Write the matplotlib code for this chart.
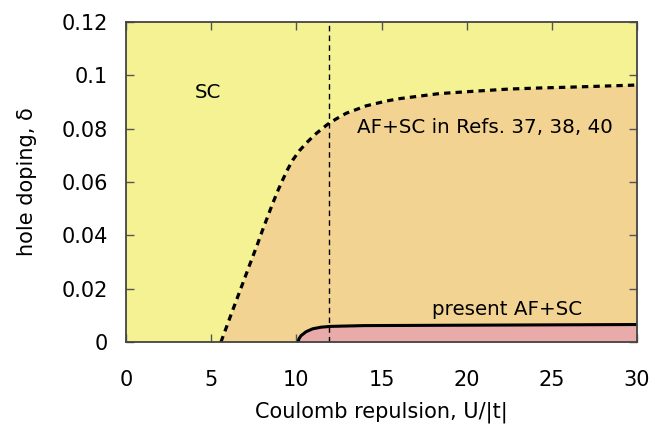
import numpy as np
import matplotlib
matplotlib.use("Agg")
import matplotlib.pyplot as plt

# boundary of the AF+SC region from Refs. 37, 38, 40 (dotted)
u_refs = [5.57, 6.25, 6.75, 7.24, 7.72, 8.02, 8.31, 8.61, 8.9, 9.2, 9.49, 9.78, 10.18, 10.67,
          11.16, 11.84, 12.34, 12.92, 14.1, 15.28, 16.06, 18.4, 20.5, 22.5, 24.3, 26.06, 28.0, 30.0]
d_refs = [0.0, 0.0118, 0.0203, 0.0287, 0.0368, 0.0421, 0.047, 0.052, 0.0566, 0.0609, 0.0648, 0.0682, 0.0718, 0.0752,
          0.0782, 0.0817, 0.0837, 0.0858, 0.0886, 0.0904, 0.0913, 0.0932, 0.0941, 0.0949, 0.0953, 0.0956, 0.0960, 0.0964]

# boundary of the present AF+SC region (solid)
u_pres = [10.1, 10.15, 10.27, 10.57, 10.96, 11.45, 12.0, 14.0, 18.0, 22.0, 26.0, 30.0]
d_pres = [0.0, 0.0012, 0.0024, 0.0039, 0.0050, 0.0056, 0.0059, 0.0062, 0.0063, 0.0064, 0.0065, 0.0066]

u_vline = 11.9

fig = plt.figure(figsize=(6.67, 4.25), dpi=100)
ax = fig.add_axes([0.189, 0.195, 0.766, 0.753])

ax.set_facecolor('#f5f294')
ax.fill_between(u_refs, 0, d_refs, color='#f2d392', lw=0, zorder=1)
ax.fill_between(u_pres, 0, d_pres, color='#e8abaa', lw=0, zorder=2)

ax.plot(u_refs, d_refs, color='black', lw=2.3, ls=(0, (2, 1.6)), zorder=4)
ax.plot(u_pres, d_pres, color='black', lw=2.2, zorder=4)
ax.axvline(u_vline, color='black', lw=1.0, ls=(0, (4, 3)), zorder=3)

ax.text(4.8, 0.0935, 'SC', ha='center', va='center', fontsize=14.3)
ax.text(21.1, 0.0806, 'AF+SC in Refs. 37, 38, 40', ha='center', va='center', fontsize=14.3)
ax.text(22.4, 0.0121, 'present AF+SC', ha='center', va='center', fontsize=14.3)

ax.set_xlim(0, 30)
ax.set_ylim(0, 0.12)
ax.set_xticks([0, 5, 10, 15, 20, 25, 30])
ax.set_yticks([0, 0.02, 0.04, 0.06, 0.08, 0.1, 0.12])
ax.set_yticklabels(['0', '0.02', '0.04', '0.06', '0.08', '0.1', '0.12'])
ax.tick_params(direction='in', top=True, right=True, length=6, width=1,
               color='#555555', labelsize=15)
ax.tick_params(axis='x', pad=20)
ax.tick_params(axis='y', pad=13)
for s in ax.spines.values():
    s.set_color('#444444')
    s.set_linewidth(1.3)
    s.set_zorder(5)

ax.set_xlabel('Coulomb repulsion, U/|t|', fontsize=15, labelpad=8)
ax.set_ylabel('hole doping, δ', fontsize=15, labelpad=18)

fig.savefig('out.png', dpi=100)
